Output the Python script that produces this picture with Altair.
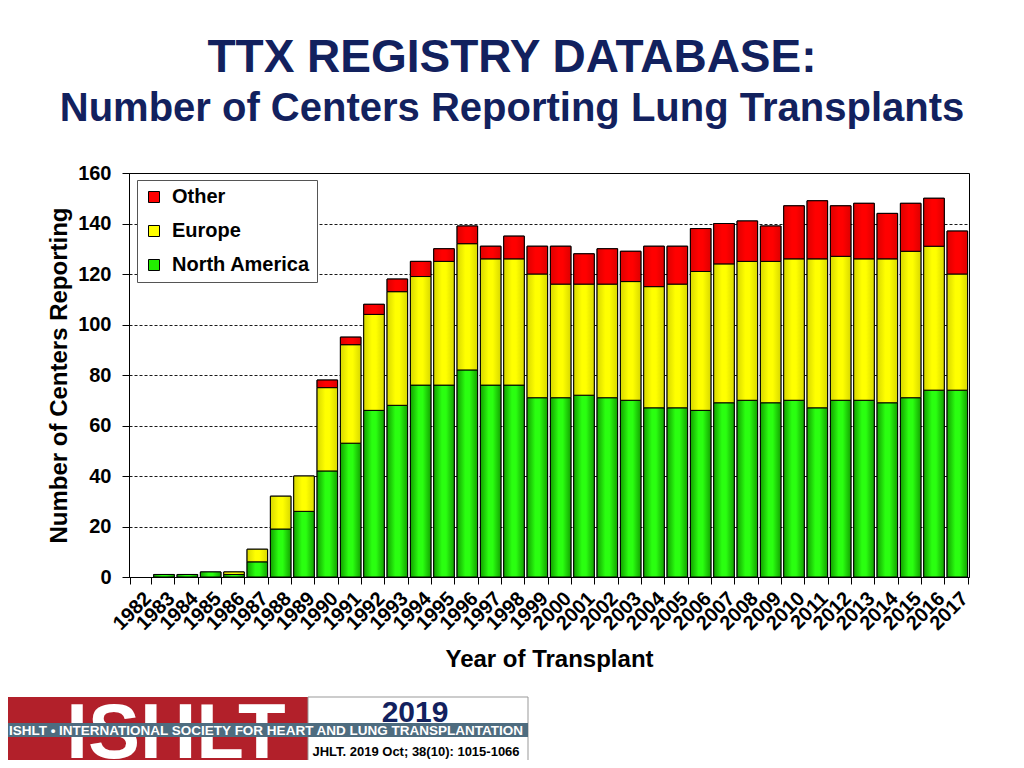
import altair as alt
import pandas as pd

years = [str(y) for y in range(1982, 2018)]
north_america = [0, 1, 1, 2, 1, 6, 19, 26, 42, 53, 66, 68, 76, 76, 82, 76, 76, 71,
                 71, 72, 71, 70, 67, 67, 66, 69, 70, 69, 70, 67, 70, 70, 69, 71, 74, 74]
europe = [0, 0, 0, 0, 1, 5, 13, 14, 33, 39, 38, 45, 43, 49, 50, 50, 50, 49,
          45, 44, 45, 47, 48, 49, 55, 55, 55, 56, 56, 59, 57, 56, 57, 58, 57, 46]
other = [0, 0, 0, 0, 0, 0, 0, 0, 3, 3, 4, 5, 6, 5, 7, 5, 9, 11,
         15, 12, 14, 12, 16, 15, 17, 16, 16, 14, 21, 23, 20, 22, 18, 19, 19, 17]
series_names = ["North America", "Europe", "Other"]
legend_order = ["Other", "Europe", "North America"]
legend_colors = ["#ff0000", "#ffff00", "#22ee00"]
y_ticks = [0, 20, 40, 60, 80, 100, 120, 140, 160]

rows = []
for i, yr in enumerate(years):
    for k, (name, vals) in enumerate(zip(series_names, [north_america, europe, other])):
        rows.append({"year": yr, "series": name, "value": vals[i], "ord": k})
df = pd.DataFrame(rows)

FONT = "Liberation Sans"
NAVY = "#12215e"

base = alt.Chart(df).transform_filter("datum.value > 0").transform_stack(
    stack="value", groupby=["year"], as_=["y0", "y1"],
    sort=[alt.SortField("ord", order="ascending")]
)

x_enc = alt.X(
    "year:N",
    scale=alt.Scale(domain=years, paddingInner=0.12, paddingOuter=0.06),
    axis=alt.Axis(
        title="Year of Transplant", labelAngle=-45, tickBand="extent", ticks=True,
        tickSize=7, tickColor="black", domainColor="black", grid=False,
        labelFont=FONT, labelFontSize=20, labelFontWeight="bold", labelColor="black",
        labelPadding=4,
        titleFont=FONT, titleFontSize=24, titleFontWeight="bold", titleColor="black",
        titlePadding=14,
    ),
)
y_enc = alt.Y(
    "y1:Q",
    scale=alt.Scale(domain=[0, 160], nice=False),
    axis=alt.Axis(
        title="Number of Centers Reporting", values=y_ticks, grid=True,
        gridColor="black", gridDash=[3, 2], gridWidth=1, gridOpacity=0.9,
        tickSize=7, tickColor="black", domainColor="black",
        labelFont=FONT, labelFontSize=20, labelFontWeight="bold", labelColor="black",
        labelPadding=11,
        titleFont=FONT, titleFontSize=24, titleFontWeight="bold", titleColor="black",
        titlePadding=6,
    ),
)

legend_layer = base.mark_bar(stroke="black", strokeWidth=1).encode(
    x=x_enc, y=y_enc, y2="y0:Q",
    color=alt.Color(
        "series:N",
        scale=alt.Scale(domain=legend_order, range=legend_colors),
        legend=alt.Legend(
            title=None, orient="none", legendX=8, legendY=7,
            symbolType="square", symbolSize=121, symbolStrokeColor="black",
            symbolStrokeWidth=1, symbolOpacity=1,
            labelFont=FONT, labelFontSize=20, labelFontWeight="bold", labelColor="black",
            labelOffset=8, rowPadding=14, padding=7,
            fillColor="white", strokeColor="#555555",
        ),
    ),
)


def grad(edge, mid):
    return alt.LinearGradient(
        gradient="linear", x1=0, x2=1, y1=0, y2=0,
        stops=[
            alt.GradientStop(offset=0, color=edge),
            alt.GradientStop(offset=0.4, color=mid),
            alt.GradientStop(offset=0.6, color=mid),
            alt.GradientStop(offset=1, color=edge),
        ],
    )


gradients = {
    "North America": grad("#12a000", "#2aff10"),
    "Europe": grad("#d8d800", "#ffff00"),
    "Other": grad("#dc0000", "#ff0000"),
}

grad_layers = []
for name in series_names:
    grad_layers.append(
        base.transform_filter(alt.datum.series == name)
        .mark_bar(fill=gradients[name], stroke="black", strokeWidth=1)
        .encode(x=x_enc, y=y_enc, y2="y0:Q")
    )

# footer banner (decoration)
fdata = pd.DataFrame({"a": [0]})
fb = alt.Chart(fdata)
footer = [
    fb.mark_rect(color="#b2202a").encode(x=alt.value(-129), x2=alt.value(179), y=alt.value(524), y2=alt.value(595)),
    fb.mark_rect(fill="white", stroke="#999999", strokeWidth=1).encode(x=alt.value(179), x2=alt.value(399), y=alt.value(524), y2=alt.value(595)),
    fb.mark_text(text="ISHLT", font=FONT, fontSize=78, fontWeight="bold", color="white", align="center", baseline="alphabetic").encode(x=alt.value(47), y=alt.value(585)),
    fb.mark_rect(color="#4e6c7f").encode(x=alt.value(-129), x2=alt.value(399), y=alt.value(550), y2=alt.value(564)),
    fb.mark_text(text="ISHLT \u2022 INTERNATIONAL SOCIETY FOR HEART AND LUNG TRANSPLANTATION", font=FONT, fontSize=13.5, fontWeight="bold", color="white", align="center", baseline="alphabetic").encode(x=alt.value(137), y=alt.value(562)),
    fb.mark_text(text="2019", font=FONT, fontSize=30, fontWeight="bold", color=NAVY, align="center", baseline="alphabetic").encode(x=alt.value(286), y=alt.value(549)),
    fb.mark_text(text="JHLT. 2019 Oct; 38(10): 1015-1066", font=FONT, fontSize=13, fontWeight="bold", color="black", align="center", baseline="alphabetic").encode(x=alt.value(287), y=alt.value(583)),
]

chart = alt.layer(legend_layer, *grad_layers, *footer).properties(
    width=840, height=404,
    title=alt.TitleParams(
        text="TTX REGISTRY DATABASE:",
        subtitle="Number of Centers Reporting Lung Transplants",
        font=FONT, fontSize=46, fontWeight="bold", color=NAVY,
        subtitleFont=FONT, subtitleFontSize=40, subtitleFontWeight="bold", subtitleColor=NAVY,
        anchor="middle", dx=-37, offset=33, subtitlePadding=7, frame="group",
    ),
    autosize=alt.AutoSizeParams(type="none"),
    padding={"left": 121, "top": 165, "right": 47, "bottom": 183},
    background="white",
).configure_view(stroke="black", strokeWidth=1)

chart.save("out.html", embed_options={"renderer": "svg", "actions": False})
